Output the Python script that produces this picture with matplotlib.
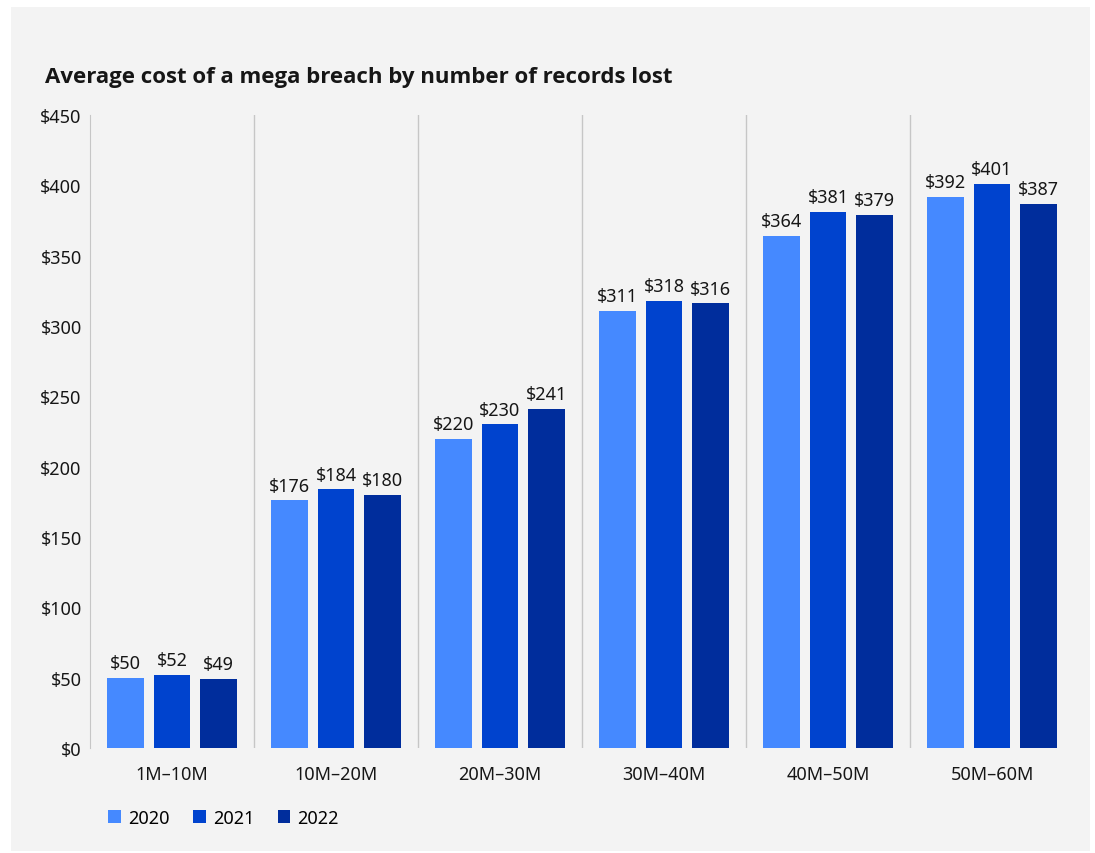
import numpy as np
import matplotlib.pyplot as plt
from matplotlib.patches import Rectangle

plt.rcParams['font.family'] = ['Noto Sans', 'DejaVu Sans']

categories = ["1M\u201310M", "10M\u201320M", "20M\u201330M", "30M\u201340M", "40M\u201350M", "50M\u201360M"]
years = ["2020", "2021", "2022"]
cost_2020 = [50, 176, 220, 311, 364, 392]
cost_2021 = [52, 184, 230, 318, 381, 401]
cost_2022 = [49, 180, 241, 316, 379, 387]
colors = ["#4589ff", "#0043ce", "#002d9c"]
yticks = [0, 50, 100, 150, 200, 250, 300, 350, 400, 450]


def main():
    fig = plt.figure(figsize=(10.95, 8.54), dpi=100)
    fig.patch.set_facecolor("white")
    # light grey panel behind everything
    fig.add_artist(Rectangle((11 / 1095, 2 / 854), 1079 / 1095, 844 / 854,
                             transform=fig.transFigure, facecolor="#f3f3f3",
                             edgecolor="none", zorder=0))

    ax = fig.add_axes([90 / 1095, 1 - 749 / 854, 984 / 1095, 633 / 854])
    ax.set_facecolor("none")

    x = np.arange(len(categories))
    width = 0.225
    step = 0.283
    series = [cost_2020, cost_2021, cost_2022]
    for i, (vals, col) in enumerate(zip(series, colors)):
        pos = x + (i - 1) * step
        ax.bar(pos, vals, width=width, color=col, label=years[i], zorder=2)
        for px, v in zip(pos, vals):
            ax.text(px, v + 4, f"${v}", ha="center", va="bottom",
                    fontsize=13, color="#161616")

    ax.set_xlim(-0.5, len(categories) - 0.5)
    ax.set_ylim(0, 450)
    ax.set_yticks(yticks)
    ax.set_yticklabels([f"${t}" for t in yticks], fontsize=13, color="#161616")
    ax.set_xticks(x)
    ax.set_xticklabels(categories, fontsize=13, color="#161616")
    ax.tick_params(axis="both", length=0)
    ax.tick_params(axis="y", pad=6)
    ax.tick_params(axis="x", pad=12)

    for s in ["top", "right", "bottom"]:
        ax.spines[s].set_visible(False)
    ax.spines["left"].set_color("#c6c6c6")
    for b in range(1, len(categories)):
        ax.axvline(b - 0.5, color="#c6c6c6", lw=1, zorder=1)

    fig.text(45 / 1095, 1 - 78 / 854, "Average cost of a mega breach by number of records lost",
             fontsize=16, fontweight="bold", family=["Open Sans", "DejaVu Sans"],
             color="#161616", va="center")

    ax.legend(loc="upper left", bbox_to_anchor=(0.011, -0.085), ncol=3, frameon=False,
              fontsize=13, handlelength=0.7, handleheight=0.7, handletextpad=0.4,
              columnspacing=1.3, borderaxespad=0)

    fig.savefig("out.png", dpi=100)


if __name__ == "__main__":
    main()
